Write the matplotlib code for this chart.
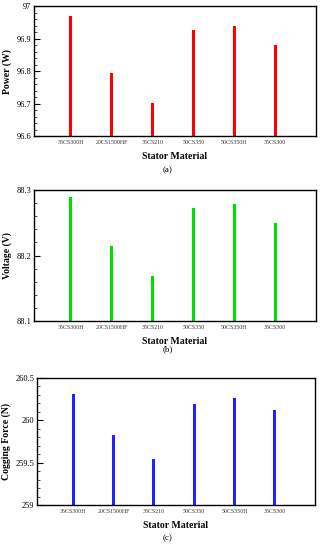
import matplotlib
matplotlib.use('Agg')
import matplotlib.pyplot as plt
from matplotlib.ticker import MultipleLocator

materials = ['35CS300H', '20CS1500HF', '35CS210', '50CS350', '50CS350H', '35CS300']
power = [96.970, 96.795, 96.702, 96.928, 96.940, 96.880]
voltage = [88.290, 88.215, 88.168, 88.272, 88.278, 88.250]
cogging = [260.31, 259.83, 259.54, 260.19, 260.26, 260.12]

plt.rcParams['font.family'] = ['Liberation Serif', 'DejaVu Serif']

fig = plt.figure(figsize=(3.22, 5.5), dpi=100)

panels = [
    # rect, values, colour, ylabel, ylim, major, minor, caption, caption y
    ([34 / 322, 0.7527, 282 / 322, 0.236], power, '#ff0000', 'Power (W)',
     (96.6, 97.0), 0.1, 0.02, '(a)', 1 - 170 / 550),
    ([34 / 322, 0.4164, 282 / 322, 0.238], voltage, '#00dd00', 'Voltage (V)',
     (88.1, 88.3), 0.1, 0.02, '(b)', 1 - 349 / 550),
    ([37 / 322, 0.0818, 278 / 322, 0.231], cogging, '#2222ff', 'Cogging Force (N)',
     (259.0, 260.5), 0.5, 0.1, '(c)', 1 - 538 / 550),
]

x = list(range(1, len(materials) + 1))
for rect, vals, color, ylab, ylim, major, minor, cap, cap_y in panels:
    ax = fig.add_axes(rect)
    ax.bar(x, [v - ylim[0] for v in vals], bottom=ylim[0], width=0.07,
           color=color, edgecolor='none')
    ax.set_xlim(0.1, 7.0)
    ax.set_ylim(*ylim)
    ax.yaxis.set_major_locator(MultipleLocator(major))
    ax.yaxis.set_minor_locator(MultipleLocator(minor))
    ax.yaxis.set_major_formatter(plt.FuncFormatter(lambda v, p: f'{v:g}'))
    ax.set_xticks(x)
    ax.set_xticklabels(materials, fontsize=4.2, color='#333333')
    ax.tick_params(axis='x', length=0, pad=3)
    ax.tick_params(axis='y', which='major', direction='in', length=4,
                   width=0.8, labelsize=6, pad=2)
    ax.tick_params(axis='y', which='minor', direction='in', length=2, width=0.5)
    for s in ax.spines.values():
        s.set_linewidth(1.0)
    ax.set_ylabel(ylab, fontsize=7, fontweight='bold', labelpad=3)
    ax.set_xlabel('Stator Material', fontsize=7, fontweight='bold', labelpad=5)
    fig.text(0.52, cap_y, cap, ha='center', va='center', fontsize=6.5)

fig.savefig('out.png', dpi=100)
